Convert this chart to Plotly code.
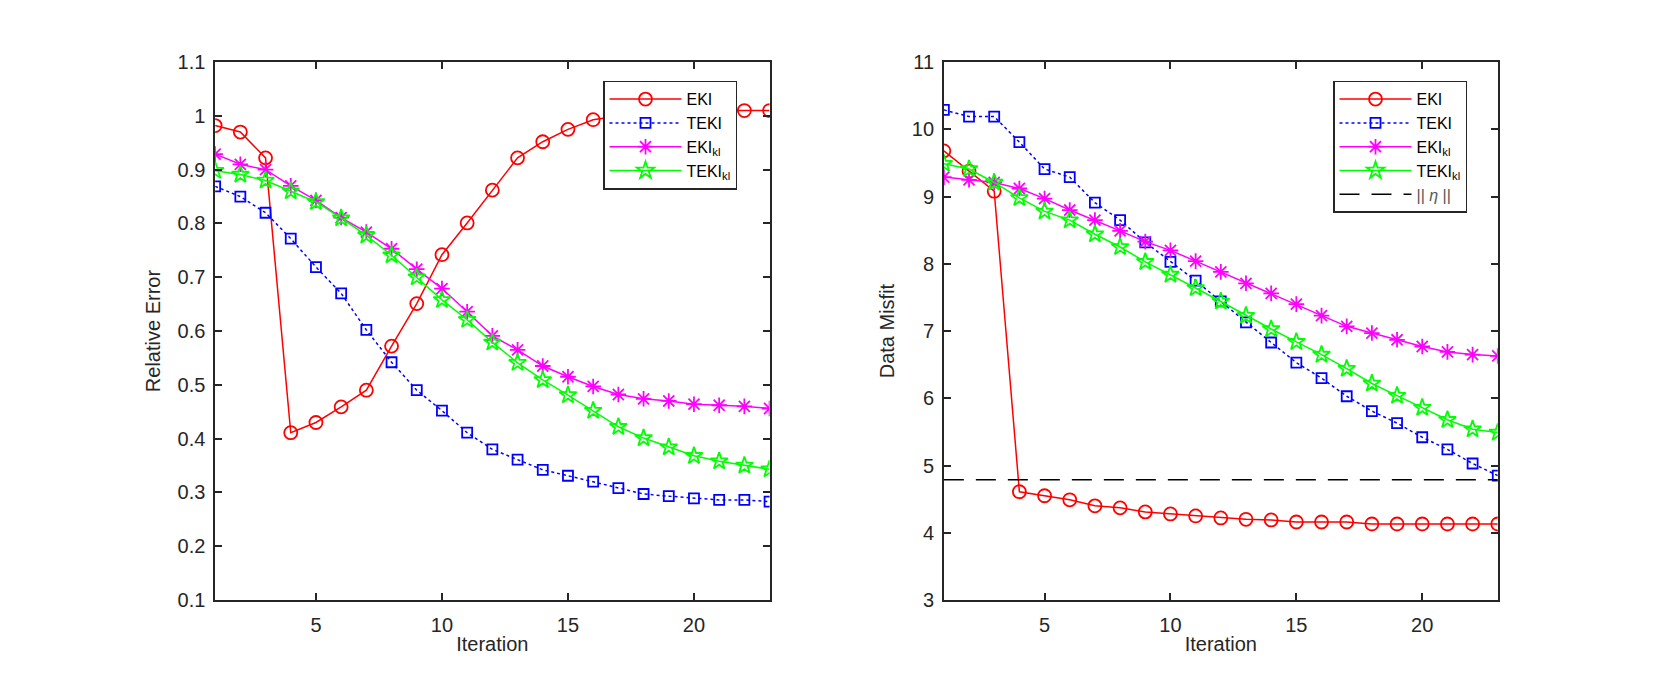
import plotly.graph_objects as go

iterations = list(range(1, 24))

# Left panel: Relative Error
rel_eki = [0.982, 0.970, 0.922, 0.411, 0.430, 0.459, 0.490, 0.572, 0.651, 0.742, 0.801, 0.862,
           0.922, 0.952, 0.975, 0.993, 1.000, 1.005, 1.008, 1.010, 1.010, 1.010, 1.010]
rel_teki = [0.869, 0.850, 0.820, 0.772, 0.719, 0.670, 0.602, 0.542, 0.490, 0.452, 0.411, 0.380,
            0.361, 0.342, 0.331, 0.320, 0.308, 0.297, 0.293, 0.289, 0.286, 0.286, 0.283]
rel_eki_kl = [0.929, 0.910, 0.900, 0.870, 0.843, 0.811, 0.784, 0.753, 0.715, 0.679, 0.636, 0.591,
              0.565, 0.535, 0.515, 0.497, 0.482, 0.474, 0.470, 0.464, 0.462, 0.460, 0.456]
rel_teki_kl = [0.898, 0.891, 0.880, 0.860, 0.840, 0.810, 0.778, 0.741, 0.700, 0.658, 0.621, 0.579,
               0.541, 0.509, 0.481, 0.452, 0.422, 0.401, 0.384, 0.368, 0.358, 0.350, 0.343]

# Right panel: Data Misfit
mis_eki = [9.68, 9.38, 9.08, 4.61, 4.55, 4.49, 4.40, 4.37, 4.31, 4.28, 4.25, 4.22,
           4.20, 4.19, 4.16, 4.16, 4.16, 4.13, 4.13, 4.13, 4.13, 4.13, 4.13]
mis_teki = [10.29, 10.19, 10.19, 9.81, 9.41, 9.29, 8.91, 8.65, 8.32, 8.03, 7.75, 7.44,
            7.13, 6.83, 6.53, 6.30, 6.03, 5.81, 5.63, 5.42, 5.24, 5.03, 4.85]
mis_eki_kl = [9.29, 9.25, 9.21, 9.12, 8.97, 8.80, 8.65, 8.49, 8.33, 8.20, 8.04, 7.88,
              7.71, 7.56, 7.40, 7.23, 7.07, 6.97, 6.87, 6.77, 6.69, 6.65, 6.63]
mis_teki_kl = [9.49, 9.41, 9.21, 8.98, 8.78, 8.65, 8.44, 8.25, 8.03, 7.84, 7.64, 7.44,
               7.23, 7.03, 6.84, 6.65, 6.44, 6.22, 6.04, 5.86, 5.68, 5.54, 5.49]
eta_norm = 4.79

left_yticks = [0.1, 0.2, 0.3, 0.4, 0.5, 0.6, 0.7, 0.8, 0.9, 1.0, 1.1]
left_yticklabels = ["0.1", "0.2", "0.3", "0.4", "0.5", "0.6", "0.7", "0.8", "0.9", "1", "1.1"]
right_yticks = [3, 4, 5, 6, 7, 8, 9, 10, 11]
xticks = [5, 10, 15, 20]

names = ["EKI", "TEKI", "EKI<sub>kl</sub>", "TEKI<sub>kl</sub>"]
colors = ["#ff0000", "#0000ff", "#ff00ff", "#00ff00"]
dashes = ["solid", "dot", "solid", "solid"]
symbols = ["circle-open", "square-open", "asterisk-open", "star-open"]
sizes = [13, 10, 13, 13]

FONT = "Liberation Sans, Arial, sans-serif"

fig = go.Figure()

for vals, nm, c, d, s, sz in zip([rel_eki, rel_teki, rel_eki_kl, rel_teki_kl], names, colors, dashes, symbols, sizes):
    fig.add_trace(go.Scatter(x=iterations, y=vals, name=nm, mode="lines+markers",
                             line=dict(color=c, width=1.5, dash=d),
                             marker=dict(symbol=s, size=sz, color=c, line=dict(color=c, width=1.8)),
                             xaxis="x", yaxis="y", legend="legend"))

for vals, nm, c, d, s, sz in zip([mis_eki, mis_teki, mis_eki_kl, mis_teki_kl], names, colors, dashes, symbols, sizes):
    fig.add_trace(go.Scatter(x=iterations, y=vals, name=nm, mode="lines+markers",
                             line=dict(color=c, width=1.5, dash=d),
                             marker=dict(symbol=s, size=sz, color=c, line=dict(color=c, width=1.8)),
                             xaxis="x2", yaxis="y2", legend="legend2"))

fig.add_trace(go.Scatter(x=[iterations[0], iterations[-1]], y=[eta_norm, eta_norm],
                         name="<span style='color:#555555'>|| <i>η</i> ||</span>", mode="lines",
                         line=dict(color="#000000", width=1.5, dash="20px,12px"),
                         xaxis="x2", yaxis="y2", legend="legend2"))

axis_common = dict(showline=True, linecolor="#262626", linewidth=1.5, mirror="ticks",
                   ticks="inside", ticklen=7, tickwidth=1.5, tickcolor="#262626",
                   showgrid=False, zeroline=False,
                   tickfont=dict(family=FONT, size=20, color="#262626"))

title_font = dict(family=FONT, size=20, color="#262626")

legend_common = dict(xanchor="left", yanchor="top", bgcolor="white", bordercolor="#262626",
                     borderwidth=1.5, itemwidth=72, tracegroupgap=0,
                     font=dict(family=FONT, size=16, color="#000000"))

fig.update_layout(
    width=1655, height=686,
    margin=dict(l=0, r=0, t=0, b=0),
    paper_bgcolor="white", plot_bgcolor="white",
    xaxis=dict(domain=[0.13, 0.465], range=[1, 23], tickvals=xticks, anchor="y", ticklabelstandoff=6,
               title=dict(text="Iteration", font=title_font, standoff=2), **axis_common),
    yaxis=dict(domain=[0.113, 0.923], range=[0.1, 1.1], tickvals=left_yticks, ticktext=left_yticklabels,
               anchor="x", ticklabelstandoff=4,
               title=dict(text="Relative Error", font=title_font, standoff=12), **axis_common),
    xaxis2=dict(domain=[0.5703, 0.905], range=[1, 23], tickvals=xticks, anchor="y2", ticklabelstandoff=6,
                title=dict(text="Iteration", font=title_font, standoff=2), **axis_common),
    yaxis2=dict(domain=[0.113, 0.923], range=[3, 11], tickvals=right_yticks, anchor="x2", ticklabelstandoff=4,
                title=dict(text="Data Misfit", font=title_font, standoff=12), **axis_common),
    legend=dict(x=603 / 1655, y=1 - 72 / 686, **legend_common),
    legend2=dict(x=1333 / 1655, y=1 - 72 / 686, **legend_common),
)

fig.write_html("out.html")
